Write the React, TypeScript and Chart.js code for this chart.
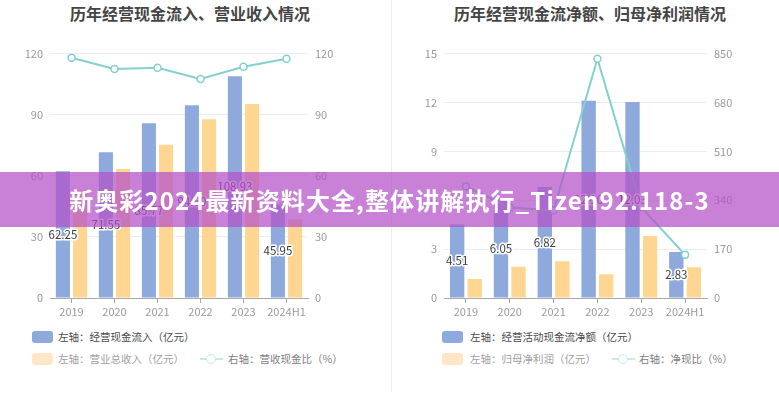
import React, { useEffect, useRef } from 'react';
import { Chart, registerables } from 'chart.js';

Chart.register(...registerables);

// ---------- data ----------
const categories = ['2019', '2020', '2021', '2022', '2023', '2024H1'];

// left chart
const cashInflow = [62.25, 71.55, 85.77, 94.6, 108.93, 45.95];
const totalRevenue = [53.0, 63.3, 75.2, 87.8, 95.3, 38.5];
const revenueCashRatio = [118.0, 112.5, 113.0, 107.5, 113.5, 117.5];
const leftChartLeftTicks = [0, 30, 60, 90, 120];
const leftChartRightTicks = [0, 30, 60, 90, 120];

// right chart
const netCashFlow = [4.51, 6.05, 6.82, 12.1, 12.03, 2.83];
const netProfit = [1.16, 1.92, 2.25, 1.45, 3.81, 1.88];
const netCashRatio = [388, 315, 305, 832, 316, 150];
const rightChartLeftTicks = [0, 3, 6, 9, 12, 15];
const rightChartRightTicks = [0, 170, 340, 510, 680, 850];

const leftTitle = '历年经营现金流入、营业收入情况';
const rightTitle = '历年经营现金流净额、归母净利润情况';
const leftLegend = ['左轴：经营现金流入（亿元）', '左轴：营业总收入（亿元）', '右轴：营收现金比（%）'];
const rightLegend = ['左轴：经营活动现金流净额（亿元）', '左轴：归母净利润（亿元）', '右轴：净现比（%）'];
const bannerText = '新奥彩2024最新资料大全,整体讲解执行_Tizen92.118-3';

// ---------- style ----------
const FONT = '"Noto Sans CJK SC", "Noto Sans", sans-serif';
const BLUE = '#8eaadc';
const ORANGE = '#ffd592';
const TEAL = '#84d0d1';
const TICK = '#9a9a9a';
const GRID = '#e9edf3';
const AXIS = '#a8a8a8';

const barLabelPlugin = {
  id: 'barLabels',
  afterDatasetsDraw(chart: any) {
    const ctx = chart.ctx;
    const meta = chart.getDatasetMeta(0);
    const ds = chart.data.datasets[0];
    ctx.save();
    ctx.font = `11.5px ${FONT}`;
    ctx.textAlign = 'center';
    ctx.textBaseline = 'middle';
    ctx.lineWidth = 3;
    ctx.lineJoin = 'round';
    ctx.strokeStyle = '#ffffff';
    ctx.fillStyle = '#3c3c3c';
    meta.data.forEach((el: any, i: number) => {
      const p = el.getProps(['x', 'y', 'base'], true);
      const y = (p.y + p.base) / 2;
      const t = Number(ds.data[i]).toFixed(2);
      ctx.strokeText(t, p.x, y);
      ctx.fillText(t, p.x, y);
    });
    ctx.restore();
  },
};

function makeConfig(
  bars1: number[],
  bars2: number[],
  line: number[],
  lTicks: number[],
  rTicks: number[],
  leftW: number,
  rightW: number,
  padRight: number
): any {
  return {
    type: 'bar',
    data: {
      labels: categories,
      datasets: [
        {
          type: 'bar',
          data: bars1,
          backgroundColor: BLUE,
          yAxisID: 'y',
          categoryPercentage: 0.8,
          barPercentage: 0.82,
          order: 2,
        },
        {
          type: 'bar',
          data: bars2,
          backgroundColor: ORANGE,
          yAxisID: 'y',
          categoryPercentage: 0.8,
          barPercentage: 0.82,
          order: 2,
        },
        {
          type: 'line',
          data: line,
          yAxisID: 'y1',
          borderColor: TEAL,
          borderWidth: 2,
          pointRadius: 3.5,
          pointBorderWidth: 1.5,
          pointBackgroundColor: '#ffffff',
          pointBorderColor: TEAL,
          tension: 0,
          order: 1,
        },
      ],
    },
    options: {
      responsive: false,
      animation: false,
      layout: { padding: { left: 0, right: padRight, top: 13, bottom: 0 } },
      plugins: { legend: { display: false }, tooltip: { enabled: false }, title: { display: false } },
      scales: {
        x: {
          type: 'category',
          offset: true,
          grid: { display: true, drawOnChartArea: false, drawTicks: true, tickLength: 5, color: AXIS, offset: false },
          border: { display: true, color: AXIS },
          ticks: { color: TICK, font: { size: 11, family: FONT }, padding: 2, maxRotation: 0, autoSkip: false },
          afterFit(s: any) {
            s.height = 27;
          },
        },
        y: {
          position: 'left',
          min: lTicks[0],
          max: lTicks[lTicks.length - 1],
          ticks: { stepSize: lTicks[1] - lTicks[0], color: TICK, font: { size: 11, family: FONT }, padding: 7 },
          grid: { color: GRID, drawTicks: false },
          border: { display: false },
          afterFit(s: any) {
            s.width = leftW;
          },
        },
        y1: {
          position: 'right',
          min: rTicks[0],
          max: rTicks[rTicks.length - 1],
          ticks: { stepSize: rTicks[1] - rTicks[0], color: TICK, font: { size: 11, family: FONT }, padding: 7 },
          grid: { drawOnChartArea: false, drawTicks: false },
          border: { display: false },
          afterFit(s: any) {
            s.width = rightW;
          },
        },
      },
    },
    plugins: [barLabelPlugin],
  };
}

const abs = (o: any): React.CSSProperties => ({ position: 'absolute', ...o });

function LegendRect({ x, y, color }: { x: number; y: number; color: string }) {
  return <div style={abs({ left: x, top: y - 6, width: 21, height: 12, borderRadius: 3, background: color })} />;
}

function LegendText({ x, y, text, color }: { x: number; y: number; text: string; color: string }) {
  return (
    <div
      style={abs({
        left: x,
        top: y - 8,
        height: 16,
        lineHeight: '16px',
        fontSize: 10.5,
        fontFamily: FONT,
        color,
        whiteSpace: 'nowrap',
      })}
    >
      {text}
    </div>
  );
}

function LegendLine({ x, y }: { x: number; y: number }) {
  return (
    <div style={abs({ left: x, top: y - 6, width: 23, height: 12 })}>
      <div style={abs({ left: 0, top: 5, width: 23, height: 1.5, background: '#c6eaea' })} />
      <div
        style={abs({
          left: 6,
          top: 1,
          width: 8,
          height: 8,
          borderRadius: 6,
          border: '1.5px solid #c6eaea',
          background: '#fff',
        })}
      />
    </div>
  );
}

export default function App() {
  const leftRef = useRef<HTMLCanvasElement>(null);
  const rightRef = useRef<HTMLCanvasElement>(null);

  useEffect(() => {
    document.body.style.margin = '0';
    const c1 = new Chart(
      leftRef.current as HTMLCanvasElement,
      makeConfig(cashInflow, totalRevenue, revenueCashRatio, leftChartLeftTicks, leftChartRightTicks, 50, 60, 21)
    );
    const c2 = new Chart(
      rightRef.current as HTMLCanvasElement,
      makeConfig(netCashFlow, netProfit, netCashRatio, rightChartLeftTicks, rightChartRightTicks, 55, 50, 22)
    );
    return () => {
      c1.destroy();
      c2.destroy();
    };
  }, []);

  const titleStyle = (cx: number): React.CSSProperties =>
    abs({
      left: cx - 200,
      width: 400,
      top: 2,
      height: 22,
      lineHeight: '22px',
      textAlign: 'center',
      fontSize: 16,
      fontWeight: 700,
      fontFamily: FONT,
      color: '#454545',
    });

  return (
    <div style={abs({ left: 0, top: 0, width: 779, height: 400, background: '#fff', overflow: 'hidden' })}>
      <div style={titleStyle(190)}>{leftTitle}</div>
      <div style={titleStyle(590)}>{rightTitle}</div>
      <div style={abs({ left: 391, top: 0, width: 1, height: 392, background: '#eeeeee' })} />

      <canvas ref={leftRef} width={389} height={285} style={abs({ left: 0, top: 40, width: 389, height: 285 })} />
      <canvas ref={rightRef} width={390} height={285} style={abs({ left: 389, top: 40, width: 390, height: 285 })} />

      {/* left legend */}
      <LegendRect x={32} y={337} color={BLUE} />
      <LegendText x={58} y={337} text={leftLegend[0]} color="#4a4a4a" />
      <LegendRect x={32} y={359} color="#ffe6c6" />
      <LegendText x={58} y={359} text={leftLegend[1]} color="#a0a0a0" />
      <LegendLine x={200} y={359} />
      <LegendText x={228} y={359} text={leftLegend[2]} color="#808080" />

      {/* right legend */}
      <LegendRect x={442} y={337} color={BLUE} />
      <LegendText x={470} y={337} text={rightLegend[0]} color="#4a4a4a" />
      <LegendRect x={442} y={359} color="#ffe6c6" />
      <LegendText x={470} y={359} text={rightLegend[1]} color="#a0a0a0" />
      <LegendLine x={612} y={359} />
      <LegendText x={639} y={359} text={rightLegend[2]} color="#808080" />

      {/* banner */}
      <div
        style={abs({
          left: 0,
          top: 172,
          width: 779,
          height: 55,
          background: 'rgba(180, 80, 200, 0.72)',
        })}
      />
      <div
        style={abs({
          left: 0,
          top: 172,
          width: 779,
          height: 55,
          lineHeight: '55px',
          textAlign: 'center',
          color: '#ffffff',
          fontSize: 24,
          fontWeight: 700,
          fontFamily: FONT,
          whiteSpace: 'nowrap',
          letterSpacing: '1.1px',
        })}
      >
        {bannerText}
      </div>
    </div>
  );
}
